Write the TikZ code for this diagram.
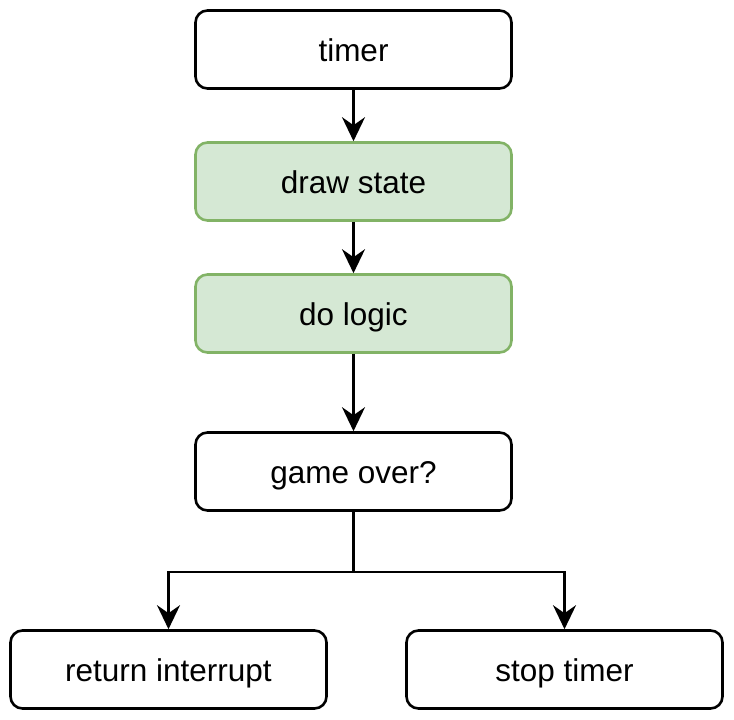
\documentclass[tikz,border=0pt]{standalone}
\usepackage{fontspec}
\setmainfont{Liberation Sans}
\usetikzlibrary{arrows.meta}
\definecolor{gfill}{HTML}{D5E8D4}
\definecolor{gdraw}{HTML}{82B366}
\begin{document}
\begin{tikzpicture}[x=1pt,y=-1pt,
  box/.style={draw=black,line width=2.6pt,rounded corners=12pt,fill=white,minimum width=316pt,minimum height=78pt,inner sep=0pt,text height=26pt,text depth=3pt,font=\fontsize{31.5}{36}\selectfont},
  gbox/.style={box,draw=gdraw,fill=gfill},
  conn/.style={line width=2.6pt,-{Stealth[length=24pt,width=23pt,inset=8pt]}}]
\useasboundingbox (0,0) rectangle (734,720);
\node[box] (timer) at (353.5,49.5) {timer};
\node[gbox] (draw) at (353.5,181.5) {draw state};
\node[gbox] (logic) at (353.5,313.5) {do logic};
\node[box] (over) at (353.5,471.5) {game over?};
\node[box] (ret) at (168.5,669.5) {return interrupt};
\node[box] (stop) at (564.5,669.5) {stop timer};
\coordinate (split) at (353.5,572);
\draw[conn] (timer) -- (draw);
\draw[conn] (draw) -- (logic);
\draw[conn] (logic) -- (over);
\draw[conn] (over.south) -- (split) -| (ret.north);
\draw[conn] (split) -| (stop.north);
\end{tikzpicture}
\end{document}
